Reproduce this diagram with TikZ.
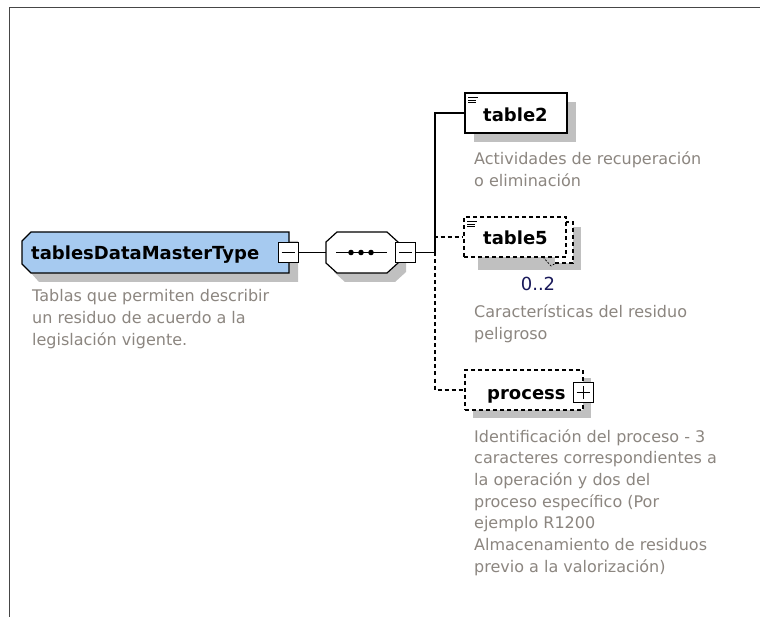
\documentclass[tikz,border=0pt]{standalone}
\usepackage{fontspec}
\setmainfont{DejaVu Sans}
\usetikzlibrary{shadows}
\definecolor{typeblue}{RGB}{166,202,240}
\definecolor{shadowgray}{RGB}{192,192,192}
\definecolor{desccol}{RGB}{140,134,128}
\definecolor{occcol}{RGB}{25,25,90}
\definecolor{framecol}{RGB}{70,70,70}
\begin{document}
\begin{tikzpicture}[x=1pt,y=-1pt,
  hold/.style={rectangle, inner sep=0pt, draw=none},
  edge/.style={line width=1.2pt, black},
  dashedge/.style={edge, dash pattern=on 4pt off 3pt},
  boxline/.style={line width=1.4pt, black},
  elembox/.style={rectangle, draw=black, line width=1.4pt, fill=white, minimum width=102pt, minimum height=40pt, inner sep=0pt},
  optbox/.style={elembox, dash pattern=on 4pt off 3pt},
  togglebox/.style={rectangle, draw=black, line width=1pt, fill=white, minimum size=20pt, inner sep=0pt},
  nametxt/.style={anchor=base west, inner sep=0pt, font=\fontsize{18}{22}\selectfont\bfseries},
  desc/.style={anchor=base west, inner sep=0pt, align=left, text=desccol, font=\fontsize{16}{21.7}\selectfont},
  occ/.style={anchor=base, inner sep=0pt, text=occcol, font=\fontsize{18}{20}\selectfont},
  icon/.style={line width=0.8pt, black}
]
\fill[white] (0,0) rectangle (760,617);
\useasboundingbox (0,0) rectangle (760,617);
% frame
\draw[framecol, line width=1pt] (9.5,617) -- (9.5,7.5) -- (760,7.5);

% ---------- main type box ----------
\fill[shadowgray] (39,241) -- (298,241) -- (298,282) -- (39,282) -- (31,273) -- (31,250) -- cycle;
\node[hold, minimum width=267pt, minimum height=41pt] (main) at (155.5,252.5) {};
\draw[boxline, fill=typeblue] (31,232) -- (289,232) -- (289,273) -- (31,273) -- (22,264) -- (22,241) -- cycle;
\node[nametxt] (maintxt) at (31,260) {tablesDataMasterType};
\node[togglebox] (mainminus) at (288,252.5) {};
\draw[line width=1pt] ([xshift=4pt]mainminus.west) -- ([xshift=-4pt]mainminus.east);
% anchor base = baseline of the last line
\node[desc] (maindesc) at (32,345.4) {Tablas que permiten describir\\un residuo de acuerdo a la\\legislación vigente.};

% ---------- sequence compositor ----------
\fill[shadowgray] (345,241) -- (395,241) -- (406,251) -- (406,272) -- (395,282) -- (345,282) -- (334,272) -- (334,251) -- cycle;
\node[hold, minimum width=72pt, minimum height=41pt] (seq) at (362,252.5) {};
\draw[boxline, line width=1.2pt, fill=white] (337,232) -- (387,232) -- (398,242) -- (398,263) -- (387,273) -- (337,273) -- (326,263) -- (326,242) -- cycle;
\draw[line width=1.2pt] (336,252.5) -- (387,252.5);
\fill (351,252.5) circle (2.8pt);
\fill (361,252.5) circle (2.8pt);
\fill (371,252.5) circle (2.8pt);
\node[togglebox] (seqminus) at (405.5,252.5) {};
\draw[line width=1pt] ([xshift=4pt]seqminus.west) -- ([xshift=-4pt]seqminus.east);

\draw[edge] (mainminus.east) -- (seq.west);
\coordinate (bus) at (435,252.5);

% ---------- table2 ----------
\fill[shadowgray] (474,102) rectangle (576,142);
\node[elembox] (t2) at (516,113) {};
\draw[icon] (468,97.5) -- (478,97.5);
\draw[icon] (468,100) -- (476,100);
\draw[icon] (468,102.5) -- (476,102.5);
\node[nametxt] (t2txt) at (483,122) {table2};
\node[desc] (t2desc) at (474,186.7) {Actividades de recuperación\\o eliminación};

% ---------- table5 ----------
\fill[shadowgray] (478,227) rectangle (581,270);
\fill[white] (565,222) -- (573,222) -- (573,263) -- (555,263) -- (555,257) -- (565,257) -- cycle;
\draw[boxline, dash pattern=on 4pt off 3pt] (565,222) -- (573,222) -- (573,263) -- (555,263);
\draw[line width=0.7pt, dash pattern=on 2pt off 1.5pt] (543,257) -- (551,266) -- (556,263);
\node[optbox] (t5) at (515,237) {};
\draw[icon] (467,221.5) -- (477,221.5);
\draw[icon] (467,224) -- (475,224);
\draw[icon] (467,226.5) -- (475,226.5);
\node[nametxt] (t5txt) at (483,245) {table5};
\node[occ] (t5occ) at (538,291) {0..2};
\node[desc] (t5desc) at (474,339.7) {Características del residuo\\peligroso};

% ---------- process ----------
\fill[shadowgray] (473,378) rectangle (591,418);
\node[optbox, minimum width=118pt] (proc) at (524,390) {};
\node[nametxt] (proctxt) at (487,399) {process};
\node[togglebox] (procplus) at (583,392.5) {};
\draw[line width=1pt] ([xshift=4pt]procplus.west) -- ([xshift=-4pt]procplus.east);
\draw[line width=1pt] ([yshift=4pt]procplus.south) -- ([yshift=-4pt]procplus.north);
\node[desc] (procdesc) at (474,572.2) {Identificación del proceso - 3\\caracteres correspondientes a\\la operación y dos del\\proceso específico (Por\\ejemplo R1200\\Almacenamiento de residuos\\previo a la valorización)};

% ---------- connectors ----------
\draw[edge] (seqminus.east) -- (bus);
\draw[edge] (bus) |- (t2.west);
\draw[dashedge] (bus) |- (t5.west);
\draw[dashedge] (bus) |- (proc.west);
\end{tikzpicture}
\end{document}
